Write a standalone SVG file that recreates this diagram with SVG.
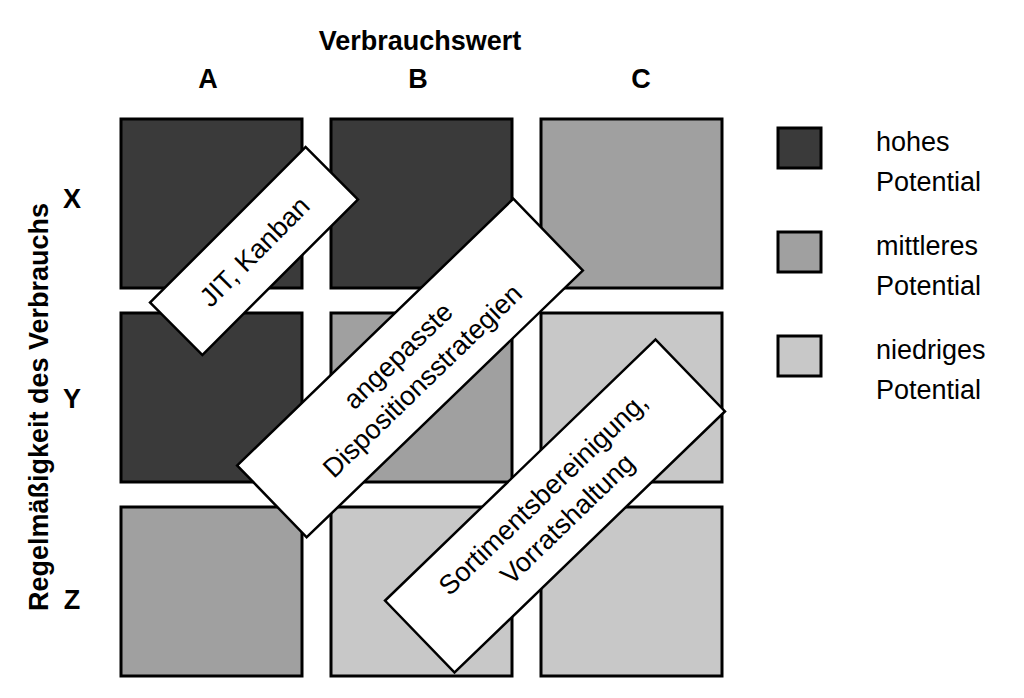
<svg xmlns="http://www.w3.org/2000/svg" width="1024" height="698" viewBox="0 0 1024 698">
<style>
text{font-family:"Liberation Sans",Arial,sans-serif;fill:#000}
.h{font-weight:bold;font-size:27px}
.l{font-size:27px}
.c{stroke:#000;stroke-width:3}
.d{fill:#3a3a3a}.m{fill:#a0a0a0}.g{fill:#c8c8c8}
.b{fill:#fff;stroke:#000;stroke-width:2.5}
</style>
<rect width="1024" height="698" fill="#fff"/>
<text class="h" x="420" y="50" text-anchor="middle">Verbrauchswert</text>
<text class="h" x="208" y="88" text-anchor="middle">A</text>
<text class="h" x="418" y="88" text-anchor="middle">B</text>
<text class="h" x="641" y="88" text-anchor="middle">C</text>
<text class="h" x="72" y="208" text-anchor="middle">X</text>
<text class="h" x="72" y="408" text-anchor="middle">Y</text>
<text class="h" x="72" y="609" text-anchor="middle">Z</text>
<text class="h" transform="translate(48,407) rotate(-90)" text-anchor="middle">Regelmäßigkeit des Verbrauchs</text>
<g id="cells">
<rect id="AX" class="c d" x="121" y="119" width="181" height="169"/>
<rect id="BX" class="c d" x="331" y="119" width="181" height="169"/>
<rect id="CX" class="c m" x="541" y="119" width="181" height="169"/>
<rect id="AY" class="c d" x="121" y="313" width="181" height="169"/>
<rect id="BY" class="c m" x="331" y="313" width="181" height="169"/>
<rect id="CY" class="c g" x="541" y="313" width="181" height="169"/>
<rect id="AZ" class="c m" x="121" y="507" width="181" height="169"/>
<rect id="BZ" class="c g" x="331" y="507" width="181" height="169"/>
<rect id="CZ" class="c g" x="541" y="507" width="181" height="169"/>
</g>
<g id="label1" transform="translate(254,251) rotate(-45)">
<rect class="b" x="-110" y="-37" width="220" height="74"/>
<text class="l" x="0" y="10" text-anchor="middle">JIT, Kanban</text>
</g>
<g id="label2" transform="translate(410,368) rotate(-44)">
<rect class="b" x="-192" y="-50" width="384" height="100"/>
<text class="l" x="0" y="-8" text-anchor="middle">angepasste</text>
<text class="l" x="0" y="27" text-anchor="middle">Dispositionsstrategien</text>
</g>
<g id="label3" transform="translate(555,506) rotate(-44)">
<rect class="b" x="-188" y="-50" width="376" height="100"/>
<text class="l" x="0" y="-8" text-anchor="middle">Sortimentsbereinigung,</text>
<text class="l" x="0" y="27" text-anchor="middle">Vorratshaltung</text>
</g>
<g id="legend">
<rect class="c d" x="778" y="128" width="43" height="40"/>
<rect class="c m" x="778" y="232" width="43" height="40"/>
<rect class="c g" x="778" y="336" width="43" height="40"/>
<text class="l" x="876" y="151">hohes</text>
<text class="l" x="876" y="191">Potential</text>
<text class="l" x="876" y="255">mittleres</text>
<text class="l" x="876" y="295">Potential</text>
<text class="l" x="876" y="359">niedriges</text>
<text class="l" x="876" y="399">Potential</text>
</g>
</svg>
